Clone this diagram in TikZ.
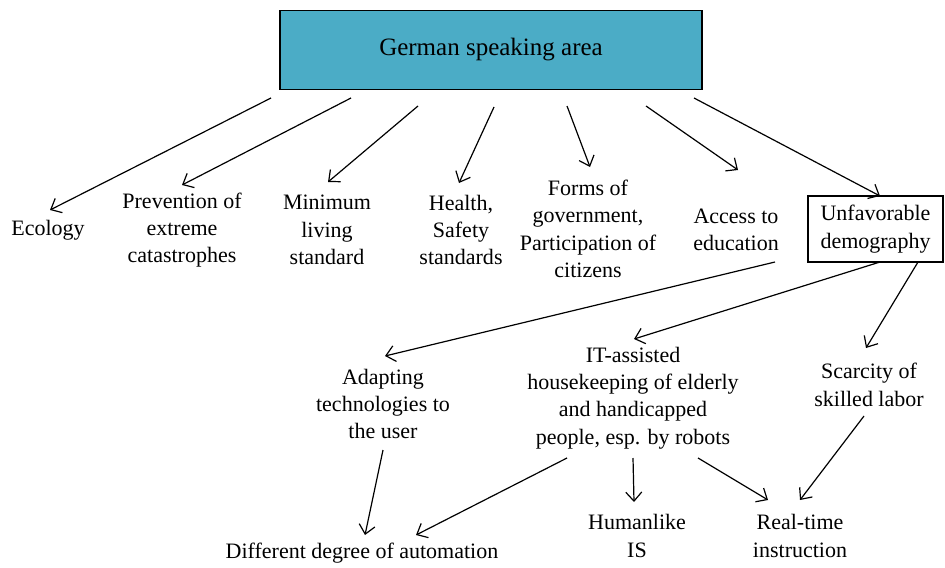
\documentclass[tikz,border=0pt]{standalone}
\usepackage{fontspec}
\setmainfont{Liberation Serif}
\usetikzlibrary{arrows.meta}

\definecolor{areablue}{RGB}{75,172,198}

\begin{document}
\begin{tikzpicture}[x=0.5pt,y=-0.5pt,
					arr/.style={-{Straight Barb[length=4.5pt,width=8pt]},line width=0.6pt},
					lbl/.style={align=center,inner sep=0pt,font=\fontsize{11}{13.65}\selectfont},
					area box/.style={draw,line width=0.8pt,fill=areablue,
					  minimum width=211pt,minimum height=39.5pt,font=\fontsize{12.5}{15}\selectfont},
					demo box/.style={lbl,draw,line width=0.6pt,minimum width=67.5pt,minimum height=33pt}]
  \useasboundingbox (0,0) rectangle (945,567);

  % top
  \node[area box] (area) at (491,50) {German speaking area};

  % second row
  \node[lbl] (eco) at (48,230) {Ecology};
  \node[lbl] (prev) at (182,230) {Prevention of\\extreme\\catastrophes};
  \node[lbl] (mini) at (327,230) {Minimum\\living\\standard};
  \node[lbl] (health) at (461,230) {Health,\\Safety\\standards};
  \node[lbl] (forms) at (588,229) {Forms of\\government,\\Participation of\\citizens};
  \node[lbl] (access) at (736,230) {Access to\\education};
  \node[demo box] (demo) at (875.5,229) {Unfavorable\\demography};

  % third row
  \node[lbl] (adapt) at (383,404) {Adapting\\technologies to\\the user};
  \node[lbl] (house) at (633,398) {IT-assisted\\housekeeping of elderly\\and handicapped\\people, esp. by robots};
  \node[lbl] (scarce) at (869,385) {Scarcity of\\skilled labor};

  % bottom row
  \node[lbl] (auto) at (362,553) {Different degree of automation};
  \node[lbl] (human) at (637,536) {Humanlike\\IS};
  \node[lbl] (realtime) at (800,536) {Real-time\\instruction};

  \path[arr]
    ([shift={(-220,48)}]area.center) edge ([shift={(2,-20)}]eco.center)
    ([shift={(-140,48)}]area.center) edge ([shift={(0,-45)}]prev.center)
    ([shift={(-73,56)}]area.center) edge ([shift={(1,-48)}]mini.center)
    ([shift={(3,57)}]area.center) edge ([shift={(-2,-47)}]health.center)
    ([shift={(76,56)}]area.center) edge ([shift={(2,-62)}]forms.center)
    ([shift={(155,56)}]area.center) edge ([shift={(2,-60)}]access.center)
    ([shift={(203,48)}]area.center) edge ([shift={(4.5,-33)}]demo.center)
    ([shift={(39,32)}]access.center) edge ([shift={(2,-48)}]adapt.center)
    ([shift={(4.5,33)}]demo.center) edge ([shift={(1,-59)}]house.center)
    ([shift={(42.5,33)}]demo.center) edge ([shift={(-3,-37)}]scarce.center)
    ([shift={(0,46)}]adapt.center) edge ([shift={(3,-18)}]auto.center)
    ([shift={(-66,60)}]house.center) edge ([shift={(54,-18)}]auto.center)
    ([shift={(0,60)}]house.center) edge ([shift={(-3,-34)}]human.center)
    ([shift={(65,60)}]house.center) edge ([shift={(-32,-36)}]realtime.center)
    ([shift={(-5,31)}]scarce.center) edge ([shift={(0,-36)}]realtime.center);
\end{tikzpicture}
\end{document}
